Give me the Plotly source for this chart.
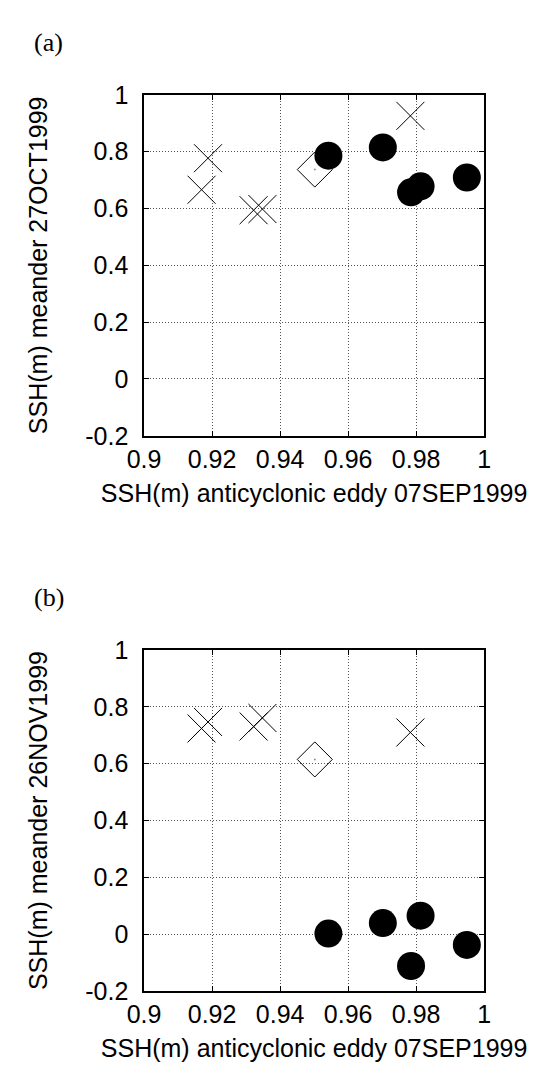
import plotly.graph_objects as go

# ---- data ----
x_cross = [0.9169, 0.9188, 0.9322, 0.9348, 0.9783]
y_cross_a = [0.666, 0.777, 0.594, 0.598, 0.926]
y_cross_b = [0.724, 0.747, 0.731, 0.761, 0.710]

x_diamond = [0.9502]
y_diamond_a = [0.737]
y_diamond_b = [0.615]

x_circle = [0.9542, 0.9702, 0.9785, 0.9813, 0.9949]
y_circle_a = [0.786, 0.815, 0.657, 0.678, 0.709]
y_circle_b = [0.002, 0.039, -0.112, 0.065, -0.038]

x_ticks = [0.9, 0.92, 0.94, 0.96, 0.98, 1.0]
x_ticktext = ["0.9", "0.92", "0.94", "0.96", "0.98", "1"]
y_ticks = [-0.2, 0, 0.2, 0.4, 0.6, 0.8, 1.0]
y_ticktext = ["-0.2", "0", "0.2", "0.4", "0.6", "0.8", "1"]

x_title = "SSH(m) anticyclonic eddy 07SEP1999"
y_title_a = "SSH(m) meander 27OCT1999"
y_title_b = "SSH(m) meander 26NOV1999"
panel_labels = ["(a)", "(b)"]

W, H = 538, 1080
SANS = "Liberation Sans, Arial, Helvetica, sans-serif"
SERIF = "Liberation Serif, Times New Roman, serif"

fig = go.Figure()

panels = [
    ("x", "y", y_cross_a, y_diamond_a, y_circle_a),
    ("x2", "y2", y_cross_b, y_diamond_b, y_circle_b),
]
for xa, ya, yc, yd, yo in panels:
    fig.add_trace(go.Scatter(x=x_cross, y=yc, xaxis=xa, yaxis=ya, mode="markers",
                             marker=dict(symbol="x-thin-open", size=28, color="black",
                                         line=dict(width=1, color="black")),
                             showlegend=False, hoverinfo="skip"))
    fig.add_trace(go.Scatter(x=x_diamond, y=yd, xaxis=xa, yaxis=ya, mode="markers",
                             marker=dict(symbol="diamond-open", size=27, color="black",
                                         line=dict(width=1, color="black")),
                             showlegend=False, hoverinfo="skip"))
    fig.add_trace(go.Scatter(x=x_diamond, y=yd, xaxis=xa, yaxis=ya, mode="markers",
                             marker=dict(symbol="square", size=1.5, color="#777"),
                             showlegend=False, hoverinfo="skip"))
    fig.add_trace(go.Scatter(x=x_circle, y=yo, xaxis=xa, yaxis=ya, mode="markers",
                             marker=dict(symbol="circle", size=28, color="black",
                                         line=dict(width=0)),
                             showlegend=False, hoverinfo="skip"))

xdom = [133 / W, 489 / W]
ydom_a = [1 - 433 / H, 1 - 83 / H]
ydom_b = [1 - 1003 / H, 1 - 653 / H]

tick_font = dict(family=SANS, size=25, color="black")
title_font = dict(family=SANS, size=25, color="black")

common_x = dict(range=[0.9, 1.0], tickvals=x_ticks, ticktext=x_ticktext,
                showgrid=True, gridcolor="#555", griddash="1px,2px", gridwidth=1,
                zeroline=False, showline=True, linecolor="black", linewidth=1.5,
                mirror="allticks", ticks="inside", ticklen=5, tickcolor="black",
                tickwidth=1, tickfont=tick_font,
                title=dict(text=x_title, font=title_font, standoff=13),
                fixedrange=True, domain=xdom)
common_y = dict(range=[-0.2, 1.0], tickvals=y_ticks, ticktext=y_ticktext,
                showgrid=True, gridcolor="#555", griddash="1px,2px", gridwidth=1,
                zeroline=False, showline=True, linecolor="black", linewidth=1.5,
                mirror="allticks", ticks="inside", ticklen=5, tickcolor="black",
                tickwidth=1, tickfont=tick_font, ticklabelstandoff=9,
                fixedrange=True)

fig.update_layout(
    width=W, height=H,
    margin=dict(l=0, r=0, t=0, b=0),
    paper_bgcolor="white", plot_bgcolor="white",
    xaxis=dict(common_x, anchor="y"),
    xaxis2=dict(common_x, anchor="y2"),
    yaxis=dict(common_y, anchor="x", domain=ydom_a,
               title=dict(text=y_title_a, font=title_font, standoff=30)),
    yaxis2=dict(common_y, anchor="x2", domain=ydom_b,
                title=dict(text=y_title_b, font=title_font, standoff=30)),
    annotations=[
        dict(text=panel_labels[0], x=33 / W, y=1 - 29 / H, xref="paper", yref="paper",
             showarrow=False, xanchor="center", yanchor="middle",
             font=dict(family=SERIF, size=26, color="black")),
        dict(text=panel_labels[1], x=33 / W, y=1 - 599 / H, xref="paper", yref="paper",
             showarrow=False, xanchor="center", yanchor="middle",
             font=dict(family=SERIF, size=26, color="black")),
    ],
)

fig.write_html("out.html")
